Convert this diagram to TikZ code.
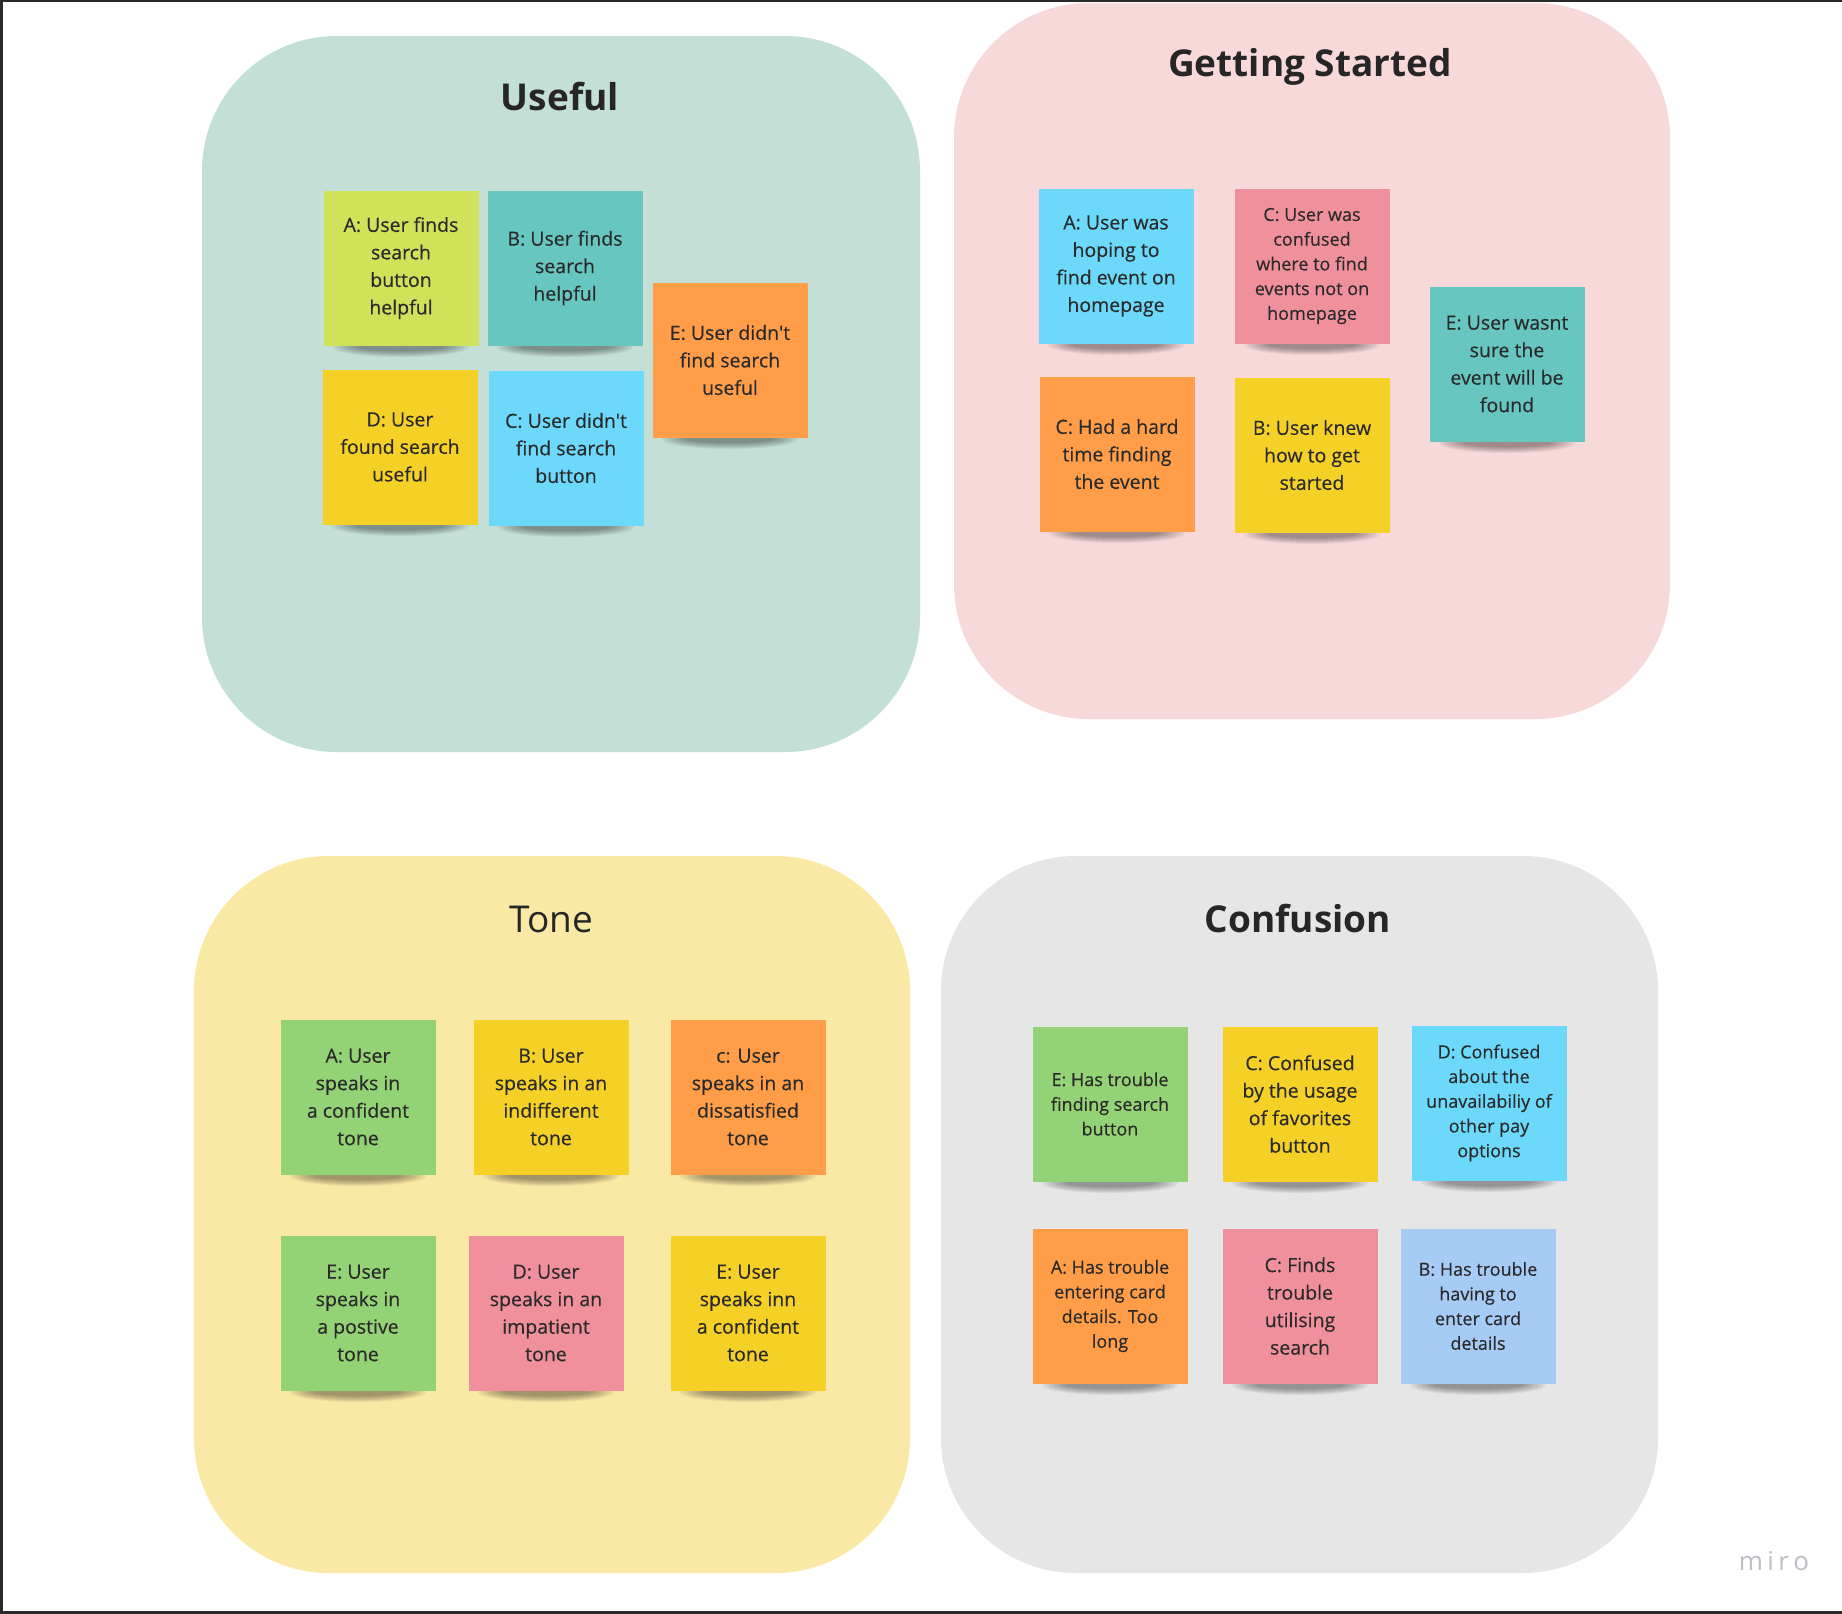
\documentclass[tikz,border=0pt]{standalone}
\usepackage{fontspec}
\setmainfont{Open Sans}
% note text: plain apostrophes, slightly heavier strokes
\newfontfamily\notefont{Open Sans}[FakeBold=0.35]
\definecolor{titlegray}{HTML}{262626}
\definecolor{notetext}{HTML}{2A2A2A}
\definecolor{usefulbg}{HTML}{C4DFD6}
\definecolor{startbg}{HTML}{F8D9DA}
\definecolor{tonebg}{HTML}{FAE8A5}
\definecolor{confbg}{HTML}{E6E6E6}
\definecolor{lime}{HTML}{D0E15A}
\definecolor{teal}{HTML}{67C6C0}
\definecolor{orange}{HTML}{FF9D48}
\definecolor{yellow}{HTML}{F5D128}
\definecolor{skyblue}{HTML}{6CD8FA}
\definecolor{pink}{HTML}{F0909D}
\definecolor{green}{HTML}{93D275}
\definecolor{paleblue}{HTML}{A6CCF5}
\definecolor{framedark}{HTML}{2A2A2A}
\definecolor{logogray}{HTML}{BDBDC6}

% sticky note: name, x, y, colour, style, text
\newcommand{\sticky}[6]{%
  \foreach \k in {1,...,7}{%
    \fill[black, opacity=0.06] (#2,#3+79) ellipse [x radius={72-4*\k}, y radius={11-\k}];
  }
  \node[#5, fill=#4] (#1) at (#2,#3) {#6};
}

\begin{document}
\begin{tikzpicture}[x=1pt, y=-1pt,
  panel/.style={rounded corners=135pt},
  ptitle/.style={text=titlegray, anchor=base, inner sep=0pt,
    font=\fontsize{37}{44}\selectfont\bfseries},
  plaintitle/.style={ptitle, font=\fontsize{37}{44}\selectfont},
  bignote/.style={minimum width=155pt, minimum height=155pt, inner sep=0pt,
    align=center, text=notetext, font=\notefont\fontsize{19.5}{27.5}\selectfont},
  smallnote/.style={bignote, font=\notefont\fontsize{18}{24.7}\selectfont},
]
\useasboundingbox (0,0) rectangle (1842,1614);
\fill[white] (0,0) rectangle (1842,1614);

% window frame edges
\fill[framedark] (0,0) rectangle (1842,2);
\fill[framedark] (0,0) rectangle (3,1614);
\fill[framedark] (0,1611) rectangle (1842,1614);

% cluster panels
\fill[usefulbg, panel] (202,36) rectangle (920,752);
\fill[startbg, panel] (954,3) rectangle (1670,719);
\fill[tonebg, panel] (194,856) rectangle (910,1573);
\fill[confbg, panel] (941,856) rectangle (1658,1573);

% panel titles
\node[ptitle] (tUseful) at (560,110) {Useful};
\node[ptitle] (tStart) at (1310,76) {Getting Started};
\node[plaintitle] (tTone) at (551,932) {Tone};
\node[ptitle] (tConf) at (1298,932) {Confusion};

% Useful
\sticky{uA}{401}{268}{lime}{bignote}{A: User finds\\search\\button\\helpful}
\sticky{uB}{565}{268}{teal}{bignote}{B: User finds\\search\\helpful}
\sticky{uE}{730}{360}{orange}{bignote}{E: User didn't\\find search\\useful}
\sticky{uD}{400}{447}{yellow}{bignote}{D: User\\found search\\useful}
\sticky{uC}{566}{448}{skyblue}{bignote}{C: User didn't\\find search\\button}

% Getting Started
\sticky{gA}{1116}{266}{skyblue}{bignote}{A: User was\\hoping to\\find event on\\homepage}
\sticky{gC}{1312}{266}{pink}{smallnote}{C: User was\\confused\\where to find\\events not on\\homepage}
\sticky{gE}{1507}{364}{teal}{bignote}{E: User wasnt\\sure the\\event will be\\found}
\sticky{gH}{1117}{454}{orange}{bignote}{C: Had a hard\\time finding\\the event}
\sticky{gB}{1312}{455}{yellow}{bignote}{B: User knew\\how to get\\started}

% Tone
\sticky{tA}{358}{1097}{green}{bignote}{A: User\\speaks in\\a confident\\tone}
\sticky{tB}{551}{1097}{yellow}{bignote}{B: User\\speaks in an\\indifferent\\tone}
\sticky{tC}{748}{1097}{orange}{bignote}{c: User\\speaks in an\\dissatisfied\\tone}
\sticky{tE}{358}{1313}{green}{bignote}{E: User\\speaks in\\a postive\\tone}
\sticky{tD}{546}{1313}{pink}{bignote}{D: User\\speaks in an\\impatient\\tone}
\sticky{tF}{748}{1313}{yellow}{bignote}{E: User\\speaks inn\\a confident\\tone}

% Confusion
\sticky{cE}{1110}{1104}{green}{smallnote}{E: Has trouble\\finding search\\button}
\sticky{cC}{1300}{1104}{yellow}{bignote}{C: Confused\\by the usage\\of favorites\\button}
\sticky{cD}{1489}{1103}{skyblue}{smallnote}{D: Confused\\about the\\unavailabiliy of\\other pay\\options}
\sticky{cA}{1110}{1306}{orange}{smallnote}{A: Has trouble\\entering card\\details. Too\\long}
\sticky{cP}{1300}{1306}{pink}{bignote}{C: Finds\\trouble\\utilising\\search}
\sticky{cB}{1478}{1306}{paleblue}{smallnote}{B: Has trouble\\having to\\enter card\\details}

% board logo
\node[text=logogray, font=\fontsize{26}{30}\selectfont, inner sep=0pt] (logo) at (1774,1561) {m\,i\,r\,o};
\end{tikzpicture}
\end{document}
